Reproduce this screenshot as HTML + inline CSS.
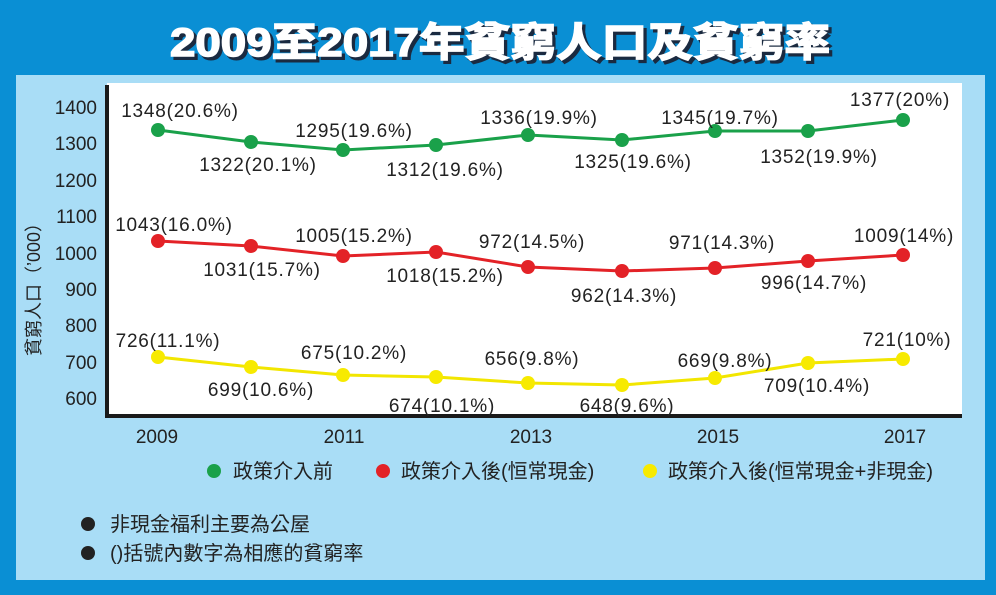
<!DOCTYPE html>
<html><head><meta charset="utf-8"><style>
html,body{margin:0;padding:0;background:#0a8fd4;}
svg{display:block;}
text{font-family:"Liberation Sans","Noto Sans CJK TC",sans-serif;}
</style></head><body>
<svg width="996" height="595" viewBox="0 0 996 595" xmlns="http://www.w3.org/2000/svg">
<rect x="0" y="0" width="996" height="595" fill="#0a8fd4"/>
<rect x="16" y="75" width="969" height="505" fill="#a9ddf6"/>
<rect x="107" y="83" width="855" height="333" fill="#fff"/>
<line x1="107" y1="85" x2="107" y2="418" stroke="#1a1a1a" stroke-width="4"/>
<line x1="105" y1="416" x2="962" y2="416" stroke="#1a1a1a" stroke-width="4"/>
<g font-weight="bold" font-size="40" text-anchor="middle">
<text x="503" y="59" fill="#1a2a40" textLength="660" lengthAdjust="spacingAndGlyphs" stroke="#1a2a40" stroke-width="2">2009至2017年貧窮人口及貧窮率</text>
<text x="500" y="56" fill="#fff" textLength="660" lengthAdjust="spacingAndGlyphs" stroke="#fff" stroke-width="1.5">2009至2017年貧窮人口及貧窮率</text>
</g>
<g font-size="19" fill="#222" text-anchor="end">
<text x="97" y="114">1400</text><text x="97" y="150">1300</text><text x="97" y="187">1200</text>
<text x="97" y="223">1100</text><text x="97" y="260">1000</text><text x="97" y="296">900</text>
<text x="97" y="332">800</text><text x="97" y="369">700</text><text x="97" y="405">600</text>
</g>
<text transform="translate(40,285) rotate(-90)" font-size="18" fill="#222" text-anchor="middle">貧窮人口（’000）</text>
<g font-size="19" fill="#222" text-anchor="middle">
<text x="157" y="443">2009</text><text x="344" y="443">2011</text><text x="531" y="443">2013</text>
<text x="718" y="443">2015</text><text x="905" y="443">2017</text>
</g>
<g stroke-width="3" fill="none">
<polyline stroke="#1aa14a" points="158,130 251,142 343,150 436,145 528,135 622,140 715,131 808,131 903,120"/>
<polyline stroke="#e32227" points="158,241 251,246 343,256 436,252 528,267 622,271 715,268 808,261 903,255"/>
<polyline stroke="#f2e600" points="158,357 251,367 343,375 436,377 528,383 622,385 715,378 808,363 903,359"/>
</g>
<g fill="#1aa14a">
<circle cx="158" cy="130" r="7"/><circle cx="251" cy="142" r="7"/><circle cx="343" cy="150" r="7"/><circle cx="436" cy="145" r="7"/><circle cx="528" cy="135" r="7"/><circle cx="622" cy="140" r="7"/><circle cx="715" cy="131" r="7"/><circle cx="808" cy="131" r="7"/><circle cx="903" cy="120" r="7"/>
</g>
<g fill="#e32227">
<circle cx="158" cy="241" r="7"/><circle cx="251" cy="246" r="7"/><circle cx="343" cy="256" r="7"/><circle cx="436" cy="252" r="7"/><circle cx="528" cy="267" r="7"/><circle cx="622" cy="271" r="7"/><circle cx="715" cy="268" r="7"/><circle cx="808" cy="261" r="7"/><circle cx="903" cy="255" r="7"/>
</g>
<g fill="#f7ea00">
<circle cx="158" cy="357" r="7"/><circle cx="251" cy="367" r="7"/><circle cx="343" cy="375" r="7"/><circle cx="436" cy="377" r="7"/><circle cx="528" cy="383" r="7"/><circle cx="622" cy="385" r="7"/><circle cx="715" cy="378" r="7"/><circle cx="808" cy="363" r="7"/><circle cx="903" cy="359" r="7"/>
</g>
<g font-size="19" fill="#222" text-anchor="middle" letter-spacing="0.8">
<text x="180" y="117">1348(20.6%)</text>
<text x="258" y="171">1322(20.1%)</text>
<text x="354" y="137">1295(19.6%)</text>
<text x="445" y="176">1312(19.6%)</text>
<text x="539" y="124">1336(19.9%)</text>
<text x="633" y="168">1325(19.6%)</text>
<text x="720" y="124">1345(19.7%)</text>
<text x="819" y="163">1352(19.9%)</text>
<text x="900" y="106">1377(20%)</text>
<text x="174" y="231">1043(16.0%)</text>
<text x="262" y="276">1031(15.7%)</text>
<text x="354" y="242">1005(15.2%)</text>
<text x="445" y="282">1018(15.2%)</text>
<text x="532" y="248">972(14.5%)</text>
<text x="624" y="302">962(14.3%)</text>
<text x="722" y="249">971(14.3%)</text>
<text x="814" y="289">996(14.7%)</text>
<text x="904" y="242">1009(14%)</text>
<text x="168" y="347">726(11.1%)</text>
<text x="261" y="396">699(10.6%)</text>
<text x="354" y="359">675(10.2%)</text>
<text x="442" y="412">674(10.1%)</text>
<text x="532" y="365">656(9.8%)</text>
<text x="627" y="412">648(9.6%)</text>
<text x="725" y="367">669(9.8%)</text>
<text x="817" y="392">709(10.4%)</text>
<text x="907" y="346">721(10%)</text>
</g>
<circle cx="214" cy="471" r="7" fill="#1aa14a"/>
<circle cx="383" cy="471" r="7" fill="#e32227"/>
<circle cx="650" cy="471" r="7" fill="#f7ea00"/>
<g font-size="20" fill="#222">
<text x="233" y="478">政策介入前</text>
<text x="401" y="478">政策介入後(恒常現金)</text>
<text x="668" y="478">政策介入後(恒常現金+非現金)</text>
</g>
<circle cx="88" cy="524" r="7" fill="#222"/>
<circle cx="88" cy="553" r="7" fill="#222"/>
<g font-size="20" fill="#222">
<text x="110" y="531">非現金福利主要為公屋</text>
<text x="110" y="560">()括號內數字為相應的貧窮率</text>
</g>
</svg>
</body></html>
